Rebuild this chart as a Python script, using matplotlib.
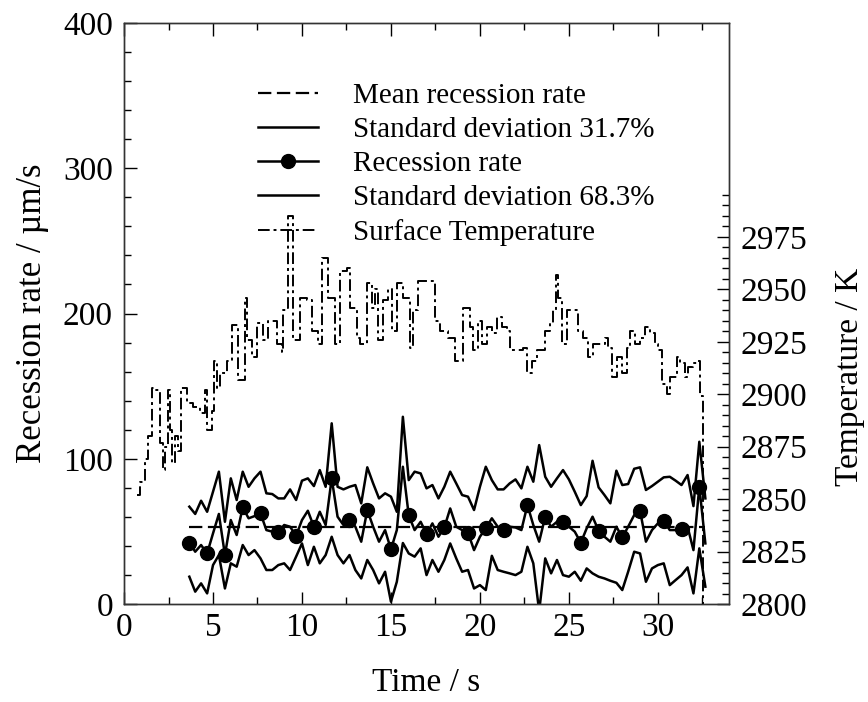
import matplotlib
matplotlib.use("Agg")
import matplotlib.pyplot as plt
from matplotlib.ticker import MultipleLocator, FixedLocator

plt.rcParams['font.family'] = ['Liberation Serif', 'DejaVu Serif']

# --- data ---
# recession rate bands, sampled every ~1/3 s
t_band = [3.67, 4.00, 4.33, 4.67, 5.00, 5.33, 5.67, 6.00, 6.33, 6.67,
          7.00, 7.33, 7.67, 8.00, 8.33, 8.67, 9.00, 9.33, 9.67, 10.00,
          10.33, 10.67, 11.00, 11.33, 11.67, 12.00, 12.33, 12.67, 13.00, 13.33,
          13.67, 14.00, 14.33, 14.67, 15.00, 15.33, 15.67, 16.00, 16.33, 16.67,
          17.00, 17.33, 17.67, 18.00, 18.33, 18.67, 19.00, 19.33, 19.67, 20.00,
          20.33, 20.67, 21.00, 21.33, 21.67, 22.00, 22.33, 22.67, 23.00, 23.33,
          23.67, 24.00, 24.33, 24.67, 25.00, 25.33, 25.67, 26.00, 26.33, 26.67,
          27.00, 27.33, 27.67, 28.00, 28.33, 28.67, 29.00, 29.33, 29.67, 30.00,
          30.33, 30.67, 31.00, 31.33, 31.67, 32.00, 32.33, 32.67]

upper = [67.0, 62.0, 71.1, 63.5, 77.3, 91.1, 56.6, 86.5, 71.6, 91.1,
         80.7, 86.5, 91.1, 76.2, 75.7, 72.7, 72.7, 78.9, 71.6, 84.9,
         86.5, 81.2, 92.2, 80.7, 124.4, 80.7, 78.9, 80.7, 81.9, 69.3,
         94.1, 83.0, 72.7, 76.2, 73.9, 63.5, 128.9, 85.3, 91.1, 89.9,
         79.6, 81.9, 72.7, 80.7, 91.1, 83.0, 75.0, 73.9, 64.7, 80.7,
         94.5, 85.3, 78.9, 78.9, 83.0, 85.8, 79.6, 94.5, 84.2, 109.4,
         87.6, 80.7, 86.5, 92.2, 85.8, 77.3, 68.1, 74.3, 98.6, 80.3,
         75.0, 69.3, 91.8, 81.9, 82.6, 93.1, 94.1, 78.5, 81.2, 84.2,
         87.2, 87.6, 84.9, 81.9, 88.8, 67.4, 111.7, 72.7]

rate = [42.2, 36.0, 40.6, 34.8, 48.6, 62.0, 33.7, 57.8, 47.5, 66.5,
        59.0, 60.5, 62.4, 50.9, 49.8, 49.8, 54.4, 53.2, 47.0, 57.8,
        64.2, 53.2, 63.5, 54.4, 86.5, 60.1, 54.4, 57.8, 53.2, 42.9,
        64.7, 53.2, 42.9, 50.9, 37.6, 50.9, 94.5, 61.0, 50.9, 56.6,
        48.2, 55.5, 46.3, 52.7, 65.8, 53.2, 50.9, 49.1, 37.1, 46.3,
        52.1, 59.0, 53.2, 50.9, 53.2, 52.7, 50.9, 68.1, 54.4, 42.9,
        60.1, 53.2, 56.6, 56.2, 53.2, 49.8, 42.2, 52.1, 60.1, 50.5,
        46.3, 42.9, 53.2, 45.9, 53.2, 61.2, 64.2, 42.9, 50.9, 55.5,
        57.3, 50.9, 50.9, 51.4, 53.2, 37.1, 80.8, 41.7]

lower = [18.8, 8.5, 14.2, 7.3, 26.8, 33.7, 10.7, 28.0, 25.7, 40.6,
         33.7, 37.1, 31.4, 23.4, 23.4, 26.8, 28.0, 23.4, 32.6, 41.7,
         26.8, 39.4, 28.0, 33.7, 46.3, 33.7, 28.0, 33.7, 23.4, 17.6,
         30.3, 23.4, 14.2, 22.2, 1.6, 15.3, 42.0, 34.8, 32.6, 38.3,
         19.9, 30.3, 22.2, 30.3, 41.7, 31.4, 22.2, 23.4, 10.7, 13.0,
         9.6, 33.2, 23.4, 22.2, 21.1, 19.9, 22.2, 39.4, 28.0, -5.0,
         31.4, 21.1, 30.3, 19.9, 18.8, 22.2, 16.0, 24.5, 21.1, 18.8,
         17.6, 16.0, 14.6, 9.6, 22.2, 36.0, 34.8, 15.3, 24.5, 26.8,
         28.0, 13.0, 16.5, 19.9, 25.2, 7.3, 38.3, 11.9]

# samples of the rate series that carry a marker
marked = [0, 3, 6, 9, 12, 15, 18, 21, 24, 27, 30, 34, 37, 40, 43, 47,
          50, 53, 57, 60, 63, 66, 69, 73, 76, 80, 83, 86]

mean_rate = 53.0

# surface temperature
t_temp = [0.73, 0.90, 1.18, 1.35, 1.57, 1.74, 2.02, 2.19, 2.30, 2.47,
          2.58, 2.70, 2.87, 3.03, 3.20, 3.54, 3.88, 4.27, 4.55, 4.66,
          4.94, 5.06, 5.22, 5.39, 5.79, 6.07, 6.40, 6.80, 6.91, 7.19,
          7.47, 7.81, 8.09, 8.60, 8.88, 8.93, 9.16, 9.21, 9.49, 9.89,
          10.28, 10.56, 10.90, 11.12, 11.46, 11.85, 12.13, 12.53, 12.70, 13.09,
          13.26, 13.65, 13.93, 14.10, 14.27, 14.55, 14.83, 15.06, 15.34, 15.67,
          16.07, 16.24, 16.52, 17.19, 17.47, 17.75, 18.20, 18.60, 19.04, 19.44,
          19.60, 19.89, 20.11, 20.39, 20.67, 20.96, 21.24, 21.52, 21.69, 22.08,
          22.42, 22.64, 22.92, 23.20, 23.48, 23.65, 23.93, 24.10, 24.27, 24.38,
          24.61, 24.89, 25.34, 25.51, 25.79, 26.07, 26.35, 26.74, 27.02, 27.19,
          27.42, 27.70, 27.98, 28.26, 28.43, 28.71, 28.99, 29.27, 29.55, 29.83,
          30.00, 30.22, 30.51, 30.67, 31.07, 31.24, 31.52, 31.69, 31.97, 32.25,
          32.36, 32.53]
temp = [2852, 2858, 2869, 2880, 2903, 2902, 2877, 2864, 2875, 2902,
        2883, 2867, 2880, 2873, 2903, 2896, 2894, 2891, 2902, 2883,
        2892, 2916, 2903, 2910, 2916, 2933, 2907, 2946, 2926, 2918,
        2934, 2926, 2935, 2924, 2920, 2940, 2941, 2985, 2926, 2946,
        2945, 2930, 2924, 2965, 2946, 2924, 2959, 2960, 2941, 2927,
        2924, 2953, 2941, 2950, 2926, 2945, 2950, 2930, 2953, 2946,
        2922, 2940, 2954, 2954, 2935, 2930, 2927, 2916, 2941, 2932,
        2921, 2935, 2924, 2932, 2929, 2937, 2932, 2930, 2921, 2921,
        2922, 2910, 2916, 2921, 2921, 2930, 2934, 2940, 2957, 2946,
        2924, 2940, 2940, 2930, 2927, 2918, 2924, 2924, 2927, 2922,
        2908, 2918, 2910, 2922, 2930, 2924, 2927, 2932, 2929, 2924,
        2921, 2905, 2900, 2908, 2918, 2915, 2908, 2913, 2915, 2916,
        2899, 2790]

temp_major = [2800, 2825, 2850, 2875, 2900, 2925, 2950, 2975]
temp_minor = [v for v in range(2805, 3000, 5) if v % 25 != 0]

# --- figure ---
fig = plt.figure(figsize=(8.68, 7.02), dpi=100)
ax = fig.add_axes([0.1429, 0.1396, 0.6970, 0.8276])
ax2 = ax.twinx()

l_mean, = ax.plot([t_band[0], t_band[-1]], [mean_rate, mean_rate], color='k',
                  lw=1.6, dashes=(6, 2.5))
l_low, = ax.plot(t_band, lower, color='k', lw=1.8)
l_rate, = ax.plot(t_band, rate, color='k', lw=1.8, marker='o', ms=10,
                  markevery=marked)
l_up, = ax.plot(t_band, upper, color='k', lw=1.8)

l_temp, = ax2.plot(t_temp, temp, color='k', lw=1.4, drawstyle='steps-post',
                   dashes=(6, 2, 1.5, 2))

ax.set_xlim(0, 34)
ax.set_ylim(0, 400)
ax2.set_ylim(2800, 3077)

ax.xaxis.set_major_locator(MultipleLocator(5))
ax.xaxis.set_minor_locator(MultipleLocator(2.5))
ax.yaxis.set_major_locator(MultipleLocator(100))
ax.yaxis.set_minor_locator(MultipleLocator(20))
ax2.yaxis.set_major_locator(FixedLocator(temp_major))
ax2.yaxis.set_minor_locator(FixedLocator(temp_minor))

ax.tick_params(axis='both', which='both', direction='in', labelsize=24,
               width=1, top=True, right=False)
ax.tick_params(which='major', length=9)
ax.tick_params(which='minor', length=5)
ax.tick_params(axis='x', pad=6)
ax.tick_params(axis='y', pad=8)
ax2.tick_params(axis='y', which='both', direction='in', labelsize=24, width=1, pad=8)
ax2.tick_params(which='major', length=9)
ax2.tick_params(which='minor', length=5)

for a in (ax, ax2):
    for s in a.spines.values():
        s.set_linewidth(1.0)
        s.set_color('#333333')

ax.set_xlabel('Time / s', fontsize=24, labelpad=18)
ax.set_ylabel('Recession rate / µm/s', fontsize=25, labelpad=10)
ax2.set_ylabel('Temperature / K', fontsize=24)
ax2.yaxis.set_label_coords(1.175, 0.39)

ax2.legend([l_mean, l_low, l_rate, l_up, l_temp],
           ['Mean recession rate', 'Standard deviation 31.7%', 'Recession rate',
            'Standard deviation 68.3%', 'Surface Temperature'],
           loc='upper left', bbox_to_anchor=(0.222, 0.897), frameon=False,
           fontsize=21, handlelength=2.05, handletextpad=1.2, labelspacing=0.26,
           borderpad=0, borderaxespad=0)

plt.savefig('out.png', dpi=100)
